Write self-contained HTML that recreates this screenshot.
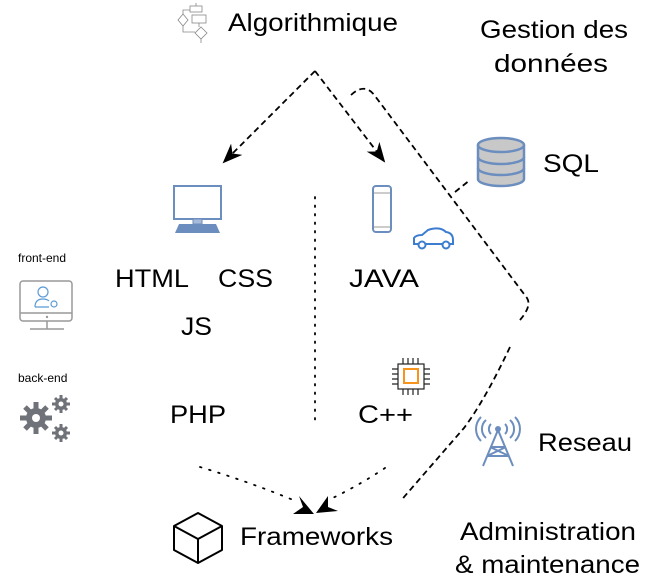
<!DOCTYPE html>
<html><head><meta charset="utf-8"><style>
body{margin:0;background:#fff;}
svg{display:block;font-family:"Liberation Sans",Arial,sans-serif;}
</style></head><body>
<svg width="666" height="586" viewBox="0 0 666 586" xmlns="http://www.w3.org/2000/svg">
<defs>
<marker id="ah2" viewBox="0 0 10 10" refX="9" refY="5" markerWidth="20" markerHeight="20" orient="auto" markerUnits="userSpaceOnUse"><path d="M0,1 L10,5 L0,9 L3,5 z" fill="#000"/></marker>
</defs>
<g stroke="#888" fill="none" stroke-width="0.8">
<rect x="190" y="6" width="12" height="6"/><rect x="192" y="15" width="14" height="8"/>
<path d="M183 14 L188 20 L183 26 L178 20 Z"/><path d="M201 27 L207 33 L201 39 L195 33 Z"/>
<path d="M196 3v3 M199 23v4 M183 14v-4h7 M183 26v6h12 M201 39v4"/>
</g>
<g font-size="25">
<text x="228" y="31" textLength="170" lengthAdjust="spacingAndGlyphs">Algorithmique</text>
<text x="480" y="38" textLength="148" lengthAdjust="spacingAndGlyphs">Gestion des</text>
<text x="494" y="72" textLength="114" lengthAdjust="spacingAndGlyphs">données</text>
<text x="115" y="287" textLength="74" lengthAdjust="spacingAndGlyphs">HTML</text>
<text x="218" y="287" textLength="55" lengthAdjust="spacingAndGlyphs">CSS</text>
<text x="181" y="335" textLength="31" lengthAdjust="spacingAndGlyphs">JS</text>
<text x="349" y="287" textLength="70" lengthAdjust="spacingAndGlyphs">JAVA</text>
<text x="170" y="423" textLength="56" lengthAdjust="spacingAndGlyphs">PHP</text>
<text x="358" y="423" textLength="55" lengthAdjust="spacingAndGlyphs">C++</text>
<text x="543" y="172" textLength="56" lengthAdjust="spacingAndGlyphs">SQL</text>
<text x="538" y="451" textLength="94" lengthAdjust="spacingAndGlyphs">Reseau</text>
<text x="240" y="545" textLength="153" lengthAdjust="spacingAndGlyphs">Frameworks</text>
<text x="460" y="540" textLength="176" lengthAdjust="spacingAndGlyphs">Administration</text>
<text x="455" y="573" textLength="185" lengthAdjust="spacingAndGlyphs">&amp; maintenance</text>
</g>
<g stroke="#000" stroke-width="1.8" fill="none" stroke-dasharray="6,4">
<path d="M315 71 L224 162" marker-end="url(#ah2)"/>
<path d="M315 71 L384 161" marker-end="url(#ah2)"/>
<path d="M351 95 Q365 82 375 96 L527 298 Q532 306 520 320"/>
<path d="M455 192 L470 180"/>
<path d="M510 347 Q485 400 464 428 L404 497 Q402 500 405 500"/>
</g>
<line x1="315" y1="197" x2="315" y2="420" stroke="#000" stroke-width="1.8" stroke-dasharray="1.5,7" stroke-linecap="round"/>
<g stroke="#000" stroke-width="1.8" fill="none" stroke-dasharray="1.5,8" stroke-linecap="round">
<path d="M200 467 Q250 482 298 502"/>
<path d="M385 468 Q355 488 324 502"/>
</g>
<path d="M299 496 L314 514 L293 514 L303 507 Z" fill="#000"/>
<path d="M328 496 L316 513 L338 511 L328 507 Z" fill="#000"/>
<g fill="none" stroke="#6c8ebf" stroke-width="2"><rect x="174" y="186" width="47" height="33"/></g>
<rect x="193" y="219" width="9" height="5" fill="#a8bbd8" stroke="#6c8ebf"/>
<path d="M179 224 L216 224 L220 233 L175 233 Z" fill="#6c8ebf"/>
<rect x="373" y="186" width="18" height="46" rx="3" fill="none" stroke="#6c8ebf" stroke-width="2"/>
<line x1="374" y1="193" x2="390" y2="193" stroke="#ccc" stroke-width="2"/>
<line x1="374" y1="227" x2="390" y2="227" stroke="#ccc" stroke-width="2"/>
<path d="M414 244 L414 238 Q416 235 422 235 L428 230 Q440 226 446 232 Q453 233 453 240 L453 244 Z" fill="none" stroke="#3c7dd0" stroke-width="2"/>
<circle cx="422" cy="245" r="3.5" fill="#fff" stroke="#3c7dd0" stroke-width="2"/>
<circle cx="446" cy="245" r="3.5" fill="#fff" stroke="#3c7dd0" stroke-width="2"/>
<text x="18" y="262" font-size="12">front-end</text>
<text x="18" y="382" font-size="12">back-end</text>
<rect x="20" y="281" width="52" height="40" rx="3" fill="none" stroke="#999" stroke-width="1.5"/>
<line x1="20" y1="313" x2="72" y2="313" stroke="#999" stroke-width="1.5"/>
<line x1="30" y1="329" x2="64" y2="329" stroke="#999" stroke-width="1.5"/>
<line x1="47" y1="321" x2="47" y2="329" stroke="#999" stroke-width="1.5"/>
<circle cx="47" cy="317" r="1.2" fill="#999"/>
<circle cx="43" cy="292" r="5" fill="none" stroke="#5b9bd5" stroke-width="1.2"/>
<path d="M35 307 Q35 299 43 299 Q47 299 49 301 M35 307 L49 307" fill="none" stroke="#5b9bd5" stroke-width="1.2"/>
<circle cx="54" cy="304" r="3" fill="none" stroke="#5b9bd5" stroke-width="1.2"/>
<g fill="#6f7278">
<circle cx="36" cy="418" r="10"/><circle cx="61" cy="404" r="6"/><circle cx="61" cy="433" r="6"/>
<g stroke="#6f7278" stroke-width="5"><path d="M36 402v32 M20 418h32 M25 407l22 22 M47 407l-22 22"/></g>
<g stroke="#6f7278" stroke-width="3"><path d="M61 395v18 M52 404h18 M55 398l12 12 M67 398l-12 12 M61 424v18 M52 433h18 M55 427l12 12 M67 427l-12 12"/></g>
</g>
<circle cx="36" cy="418" r="4" fill="#fff"/><circle cx="61" cy="404" r="2.5" fill="#fff"/><circle cx="61" cy="433" r="2.5" fill="#fff"/>
<g stroke="#222" stroke-width="1.2">
<rect x="398" y="364" width="26" height="25" fill="#fff"/>
<path d="M403 358v6 M408 358v6 M413 358v6 M418 358v6 M403 389v6 M408 389v6 M413 389v6 M418 389v6 M392 369h6 M392 374h6 M392 379h6 M392 384h6 M424 369h6 M424 374h6 M424 379h6 M424 384h6"/>
</g>
<rect x="404" y="369" width="14" height="14" fill="none" stroke="#f7941d" stroke-width="2"/>
<g fill="#c8c8c8" stroke="#6c8ebf" stroke-width="2.5">
<path d="M478 145 v34 a23 7 0 0 0 46 0 v-34"/>
<ellipse cx="501" cy="145" rx="23" ry="7"/>
<path d="M478 157 a23 7 0 0 0 46 0 M478 168 a23 7 0 0 0 46 0" fill="none"/>
</g>
<g fill="none" stroke="#6c8ebf" stroke-width="2">
<path d="M498 430 L483 466 M498 430 L513 466 M490 447h16 M487 456h22 M490 447 L509 456 M506 447 L487 456"/>
<path d="M491 424 a7 7 0 0 0 0 10 M505 424 a7 7 0 0 1 0 10 M486 420 a12 12 0 0 0 0 18 M510 420 a12 12 0 0 1 0 18 M481 417 a17 17 0 0 0 0 24 M515 417 a17 17 0 0 1 0 24"/>
</g>
<circle cx="498" cy="429" r="3" fill="#6c8ebf"/>
<g fill="none" stroke="#000" stroke-width="2" stroke-linejoin="round">
<path d="M198 513 L222 526 L222 550 L198 563 L174 550 L174 526 Z"/>
<path d="M174 526 L198 539 L222 526 M198 539 L198 563"/>
</g>
</svg>
</body></html>
